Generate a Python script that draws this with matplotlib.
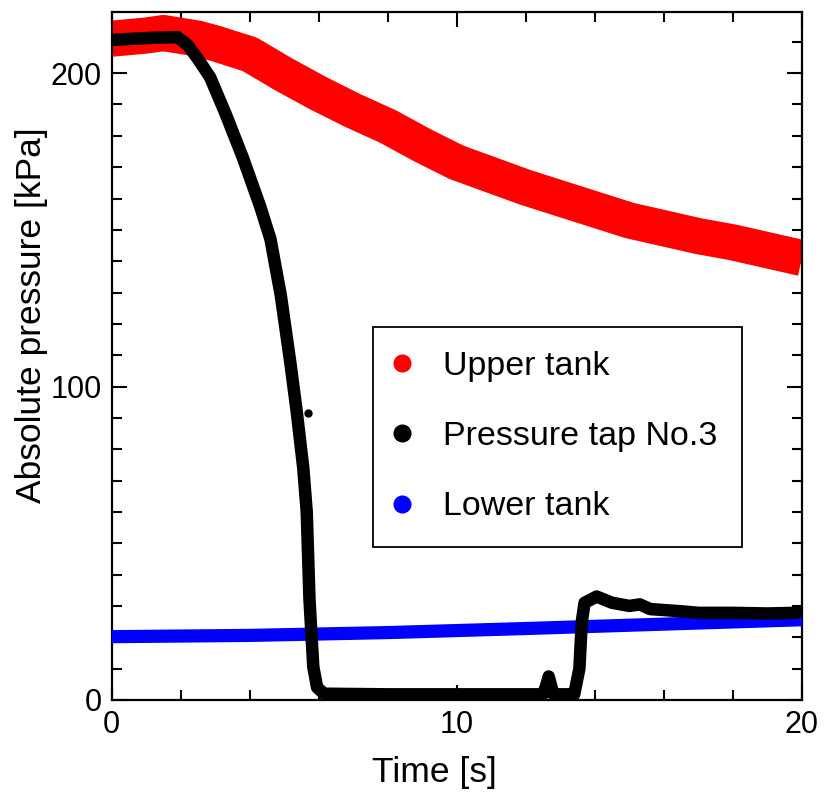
import matplotlib
matplotlib.use("Agg")
import matplotlib.pyplot as plt
from matplotlib.lines import Line2D
from matplotlib.ticker import MultipleLocator

plt.rcParams['font.family'] = ['Liberation Sans', 'DejaVu Sans']

# upper tank pressure [kPa] vs time [s]
upper_t = [0, 1.0, 1.5, 2.5, 3.0, 4.0, 5.0, 5.5, 6.0, 7.0, 8.0, 9.0, 10.0,
           11.0, 12.0, 13.0, 14.0, 15.0, 16.0, 17.0, 18.0, 19.0, 20.0]
upper_p = [211.0, 212.0, 212.8, 211.0, 209.5, 206.0, 199.5, 196.5, 193.5, 188.0,
           183.0, 177.0, 171.5, 167.5, 163.5, 160.0, 156.5, 153.0, 150.5, 148.0,
           146.0, 143.5, 141.0]

# pressure tap No.3
tap_t = [0, 1.0, 1.9, 2.2, 2.5, 2.85, 3.3, 3.8, 4.3, 4.6, 4.9, 5.17, 5.36, 5.55,
         5.65, 5.73, 5.84, 5.95, 6.15, 8.0, 10.0, 12.5, 12.6, 12.66, 12.72, 12.8,
         13.4, 13.55, 13.62, 13.7, 14.05, 14.5, 15.0, 15.3, 15.6, 16.5, 17.0,
         18.0, 19.0, 19.8, 20.0]
tap_p = [210.6, 211.2, 211.5, 209.0, 204.5, 198.7, 187.0, 173.0, 157.5, 147.0,
         129.0, 108.0, 92.0, 74.0, 60.0, 32.0, 10.6, 4.0, 2.0, 1.8, 1.8, 1.8,
         5.0, 7.5, 5.0, 1.8, 1.8, 10.0, 25.0, 31.0, 33.0, 31.0, 30.0, 30.5, 29.0,
         28.3, 27.8, 27.8, 27.6, 27.8, 28.5]
stray_t = [5.68]
stray_p = [91.7]

# lower tank
lower_t = [0, 4.0, 8.0, 12.0, 16.0, 20.0]
lower_p = [20.2, 20.6, 21.5, 22.8, 24.2, 25.6]

labels = ["Upper tank", "Pressure tap No.3", "Lower tank"]
colors = ["#ff0000", "#000000", "#0000ff"]

fig = plt.figure(figsize=(8.24, 7.92), dpi=100)
ax = fig.add_axes([0.1356, 0.1162, 0.8377, 0.8686])

ax.plot(upper_t, upper_p, color=colors[0], lw=26, solid_capstyle='butt',
        solid_joinstyle='round', zorder=2)
ax.plot(lower_t, lower_p, color=colors[2], lw=9.5, solid_capstyle='butt',
        solid_joinstyle='round', zorder=3)
ax.plot(tap_t, tap_p, color=colors[1], lw=9, solid_capstyle='butt',
        solid_joinstyle='round', zorder=4)
ax.plot(stray_t, stray_p, 'o', color=colors[1], ms=5, zorder=4)

ax.set_xlim(0, 20)
ax.set_ylim(0, 219.5)
ax.xaxis.set_major_locator(MultipleLocator(10))
ax.xaxis.set_minor_locator(MultipleLocator(2))
ax.yaxis.set_major_locator(MultipleLocator(100))
ax.yaxis.set_minor_locator(MultipleLocator(10))
ax.tick_params(which='both', direction='in', top=True, right=True,
               width=1.5, labelsize=22, pad=7)
ax.tick_params(which='major', length=11)
ax.tick_params(which='minor', length=7.5)
for s in ax.spines.values():
    s.set_linewidth(1.6)

ax.set_xlabel("Time [s]", fontsize=25.5, labelpad=12)
ax.set_ylabel("Absolute pressure [kPa]", fontsize=25.5, labelpad=2)
ax.xaxis.label.set_x(0.467)
ax.yaxis.label.set_y(0.56)

handles = [Line2D([], [], ls='none', marker='o', ms=12, color=c) for c in colors]
leg = ax.legend(handles, labels, loc='upper left', bbox_to_anchor=(0.378, 0.5426),
                borderaxespad=0, fontsize=24.5, numpoints=1, handlelength=0.26,
                handletextpad=1.085, labelspacing=1.15, borderpad=0.72,
                fancybox=False, framealpha=1)
leg.get_frame().set_edgecolor('black')
leg.get_frame().set_linewidth(1.3)

fig.savefig("out.png", dpi=100)
